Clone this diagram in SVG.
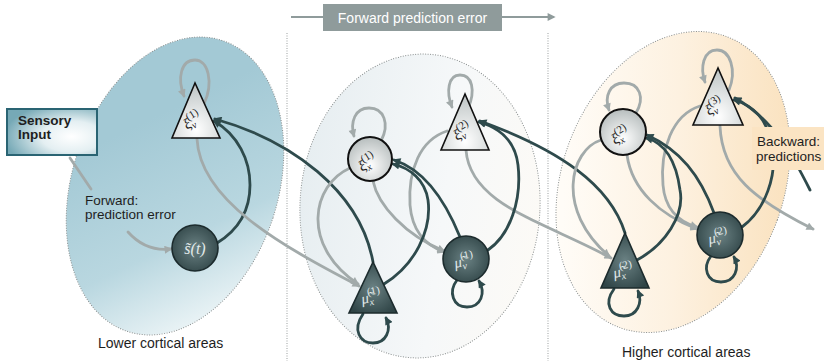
<svg xmlns="http://www.w3.org/2000/svg" width="824" height="361" viewBox="0 0 824 361">
  <defs>
    <style>
      .txt { font-family: "Liberation Sans", Arial, sans-serif; font-size: 13.5px; fill: #1e1e1e; }
      .cap { font-size: 14px; }
      .bold { font-weight: bold; }
      .area { stroke: #8a8f8f; stroke-width: 1; stroke-dasharray: 1 1.5; }
      .divider { stroke: #9a9f9f; stroke-width: 1; stroke-dasharray: 1 1.5; fill: none; }
      .fwd { fill: none; stroke: #a2aaaa; stroke-width: 2.8; stroke-linecap: round; }
      .bwd { fill: none; stroke: #2e4a4c; stroke-width: 2.8; stroke-linecap: round; }
      .fwd.arr { marker-end: url(#arrowGray); }
      .bwd.arr { marker-end: url(#arrowDark); }
      .lightTri { fill: url(#gradLightTri); stroke: #111; stroke-width: 1.6; stroke-linejoin: miter; }
      .lightCirc { fill: url(#gradLight); stroke: #111; stroke-width: 2; }
      .darkNode { fill: url(#gradDark); stroke: #1c2b2d; stroke-width: 1.6; }
      .lblL { font-family: "Liberation Serif", "DejaVu Serif", serif; font-style: italic; font-size: 15px; fill: #222; }
      .lblD { font-family: "Liberation Serif", "DejaVu Serif", serif; font-style: italic; font-size: 15px; fill: #e2eaea; }
      .up { font-style: normal; font-size: 11px; }
      .sub { font-size: 10px; }
    </style>
    <marker id="arrowGray" viewBox="0 0 10 10" refX="8" refY="5" markerWidth="9" markerHeight="8" markerUnits="userSpaceOnUse" orient="auto">
      <path d="M0,0 L10,5 L0,10 z" fill="#a2aaaa"/>
    </marker>
    <marker id="arrowDark" viewBox="0 0 10 10" refX="8" refY="5" markerWidth="9" markerHeight="8" markerUnits="userSpaceOnUse" orient="auto">
      <path d="M0,0 L10,5 L0,10 z" fill="#2e4a4c"/>
    </marker>
    <marker id="arrowTop" viewBox="0 0 10 10" refX="8" refY="5" markerWidth="9" markerHeight="8" markerUnits="userSpaceOnUse" orient="auto">
      <path d="M0,0 L10,5 L0,10 z" fill="#8f9b9b"/>
    </marker>
    <linearGradient id="gradLower" gradientUnits="userSpaceOnUse" x1="120" y1="140" x2="275" y2="300">
      <stop offset="0" stop-color="#a3c9d5"/>
      <stop offset="0.55" stop-color="#b9d7e0"/>
      <stop offset="1" stop-color="#f4f9fa"/>
    </linearGradient>
    <linearGradient id="gradMiddle" gradientUnits="userSpaceOnUse" x1="300" y1="200" x2="540" y2="220">
      <stop offset="0" stop-color="#e7eef1"/>
      <stop offset="0.6" stop-color="#f6f8f9"/>
      <stop offset="1" stop-color="#fcfaf6"/>
    </linearGradient>
    <linearGradient id="gradUpper" gradientUnits="userSpaceOnUse" x1="570" y1="220" x2="785" y2="150">
      <stop offset="0" stop-color="#fffcf7"/>
      <stop offset="0.5" stop-color="#fdf1e0"/>
      <stop offset="1" stop-color="#fae2bf"/>
    </linearGradient>
    <radialGradient id="gradSensory" cx="0.72" cy="0.6" r="0.75">
      <stop offset="0" stop-color="#ffffff"/>
      <stop offset="0.45" stop-color="#e4eff2"/>
      <stop offset="1" stop-color="#76a9b6"/>
    </radialGradient>
    <radialGradient id="gradLight" cx="0.5" cy="0.65" r="0.6">
      <stop offset="0" stop-color="#ffffff"/>
      <stop offset="1" stop-color="#bcc2c2"/>
    </radialGradient>
    <radialGradient id="gradLightTri" cx="0.5" cy="0.85" r="0.75">
      <stop offset="0" stop-color="#ffffff"/>
      <stop offset="1" stop-color="#c4caca"/>
    </radialGradient>
    <radialGradient id="gradDark" cx="0.5" cy="0.5" r="0.6">
      <stop offset="0" stop-color="#6a8183"/>
      <stop offset="1" stop-color="#2f4446"/>
    </radialGradient>
  </defs>

  <rect width="824" height="361" fill="#ffffff"/>

  <!-- cortical areas -->
  <g id="areas">
    <ellipse class="area" cx="175" cy="186" rx="103" ry="153" transform="rotate(18 175 186)" fill="url(#gradLower)"/>
    <ellipse class="area" cx="420" cy="206" rx="120" ry="152" transform="rotate(3 420 206)" fill="url(#gradMiddle)" stroke="#c6cbcb"/>
    <ellipse class="area" cx="673" cy="182" rx="111" ry="155" transform="rotate(20 673 182)" fill="url(#gradUpper)"/>
  </g>

  <line class="divider" x1="287" y1="33" x2="287" y2="361"/>
  <line class="divider" x1="548" y1="33" x2="548" y2="361"/>

  <!-- forward prediction error banner -->
  <g id="banner">
    <line x1="291" y1="17" x2="554" y2="17" stroke="#8f9b9b" stroke-width="2" marker-end="url(#arrowTop)"/>
    <rect x="323" y="4" width="179" height="27" fill="#8f9b9b"/>
    <text x="412.5" y="22.5" text-anchor="middle" style="font-family: 'Liberation Sans', Arial, sans-serif; font-size: 14px; fill: #ffffff;">Forward prediction error</text>
  </g>

  <!-- connectors -->
  <g id="connectors">
    <!-- lower area -->
    <path class="fwd arr" d="M70,158 L91,189 M128,232 Q146,252 171,249"/>
    <path class="bwd arr" d="M217,243 C235,232 250,215 250,185 C250,160 238,135 214,121"/>
    <path class="bwd arr" d="M373,262 C360,190 290,140 215,119"/>
    <path class="fwd arr" d="M197,139 C200,200 280,245 359,286"/>
    <path class="fwd arr" d="M204,104 C214,82 208,60 195,60 C181,60 177,78 184,96"/>

    <!-- middle area -->
    <path class="fwd arr" d="M381,141 C390,124 384,108 369,108 C355,108 350,122 354,136"/>
    <path class="fwd arr" d="M468,109 C476,90 472,75 460,75 C448,75 446,92 452,107"/>
    <path class="fwd arr" d="M350,168 C312,185 300,245 358,284"/>
    <path class="fwd arr" d="M373,181 C378,205 405,235 444,251"/>
    <path class="fwd arr" d="M447,131 C420,140 408,170 410,205 C412,230 425,245 444,252"/>
    <path class="fwd arr" d="M466,150 C470,205 545,222 611,258"/>
    <path class="bwd arr" d="M384,284 C415,265 432,230 428,200 C425,180 410,168 393,164"/>
    <path class="bwd arr" d="M460,237 C445,200 425,170 394,160"/>
    <path class="bwd arr" d="M488,250 C510,235 522,200 518,165 C515,140 500,128 479,122"/>
    <path class="bwd arr" d="M625,233 C610,185 560,150 480,121"/>
    <path class="bwd arr" d="M363,314 C352,330 360,343 373,343 C386,343 392,330 386,318"/>
    <path class="bwd arr" d="M457,280 C448,292 453,307 467,307 C481,307 486,293 479,281"/>

    <!-- upper area -->
    <path class="fwd arr" d="M636,113 C645,98 640,83 624,83 C610,83 604,96 609,110"/>
    <path class="fwd arr" d="M729,90 C737,70 730,50 717,50 C703,50 700,68 705,82"/>
    <path class="fwd arr" d="M601,140 C570,150 555,210 609,256"/>
    <path class="fwd arr" d="M627,155 C632,190 660,215 697,229"/>
    <path class="fwd arr" d="M700,106 C672,115 660,150 663,185 C665,210 680,222 697,227"/>
    <path class="fwd arr" d="M720,126 C722,175 755,200 813,229"/>
    <path class="bwd arr" d="M637,260 C665,245 685,215 680,190 C676,160 665,143 646,138"/>
    <path class="bwd arr" d="M714,213 C700,175 680,150 647,135"/>
    <path class="bwd arr" d="M742,227 C765,210 778,175 772,145 C767,120 755,106 734,100"/>
    <path class="bwd arr" d="M810,190 C795,160 775,120 735,98"/>
    <path class="bwd arr" d="M614,289 C603,304 611,316 624,316 C637,316 643,303 638,291"/>
    <path class="bwd arr" d="M711,256 C702,268 707,282 721,282 C735,282 740,268 734,257"/>
  </g>

  <!-- sensory input -->
  <g id="sensory-input">
    <rect x="7" y="109" width="90" height="46" fill="url(#gradSensory)" stroke="#2a6473" stroke-width="2"/>
    <text class="txt bold" x="18" y="125">Sensory</text>
    <text class="txt bold" x="18" y="139">Input</text>
  </g>

  <text class="txt" x="85" y="205">Forward:</text>
  <text class="txt" x="85" y="219">prediction error</text>

  <!-- nodes -->
  <g id="xi-v1">
    <polygon class="lightTri" points="195,83 172,138 220,138"/>
    <text class="lblL" transform="translate(195,125) rotate(-32)" text-anchor="middle">ξ<tspan class="sub" dy="3">v</tspan><tspan class="up" dx="-5" dy="-10">(1)</tspan></text>
  </g>
  <g id="s-t">
    <circle class="darkNode" cx="195" cy="248" r="23"/>
    <text class="lblD" x="195" y="254" text-anchor="middle" style="font-size:16px">s̃(<tspan>t</tspan>)</text>
  </g>

  <g id="xi-x1">
    <circle class="lightCirc" cx="370" cy="159" r="22"/>
    <text class="lblL" transform="translate(370,167) rotate(-32)" text-anchor="middle">ξ<tspan class="sub" dy="3">x</tspan><tspan class="up" dx="-5" dy="-10">(1)</tspan></text>
  </g>
  <g id="xi-v2">
    <polygon class="lightTri" points="465,94 441,150 489,150"/>
    <text class="lblL" transform="translate(465,136) rotate(-32)" text-anchor="middle">ξ<tspan class="sub" dy="3">v</tspan><tspan class="up" dx="-5" dy="-10">(2)</tspan></text>
  </g>
  <g id="mu-x1">
    <polygon class="darkNode" points="373,262 349,313 397,313"/>
    <text class="lblD" transform="translate(372,302) rotate(-12)" text-anchor="middle">μ̃<tspan class="sub" dy="3">x</tspan><tspan class="up" dx="-5" dy="-10">(1)</tspan></text>
  </g>
  <g id="mu-v1">
    <circle class="darkNode" cx="466" cy="259" r="23"/>
    <text class="lblD" transform="translate(465,266) rotate(-12)" text-anchor="middle">μ̃<tspan class="sub" dy="3">v</tspan><tspan class="up" dx="-5" dy="-10">(1)</tspan></text>
  </g>

  <g id="xi-x2">
    <circle class="lightCirc" cx="623" cy="132" r="23"/>
    <text class="lblL" transform="translate(623,140) rotate(-32)" text-anchor="middle">ξ<tspan class="sub" dy="3">x</tspan><tspan class="up" dx="-5" dy="-10">(2)</tspan></text>
  </g>
  <g id="xi-v3">
    <polygon class="lightTri" points="718,68 693,125 743,125"/>
    <text class="lblL" transform="translate(717,111) rotate(-32)" text-anchor="middle">ξ<tspan class="sub" dy="3">v</tspan><tspan class="up" dx="-5" dy="-10">(3)</tspan></text>
  </g>
  <g id="mu-x2">
    <polygon class="darkNode" points="625,233 601,288 649,288"/>
    <text class="lblD" transform="translate(624,276) rotate(-12)" text-anchor="middle">μ̃<tspan class="sub" dy="3">x</tspan><tspan class="up" dx="-5" dy="-10">(2)</tspan></text>
  </g>
  <g id="mu-v2">
    <circle class="darkNode" cx="720" cy="235" r="23"/>
    <text class="lblD" transform="translate(719,242) rotate(-12)" text-anchor="middle">μ̃<tspan class="sub" dy="3">v</tspan><tspan class="up" dx="-5" dy="-10">(2)</tspan></text>
  </g>

  <!-- backward predictions label -->
  <g id="backward-label">
    <rect x="752" y="127" width="72" height="43" fill="#fbe4c3"/>
    <text class="txt" x="757" y="146">Backward:</text>
    <text class="txt" x="756" y="161">predictions</text>
  </g>

  <text class="txt cap" x="98" y="348">Lower cortical areas</text>
  <text class="txt cap" x="622" y="357">Higher cortical areas</text>
</svg>
